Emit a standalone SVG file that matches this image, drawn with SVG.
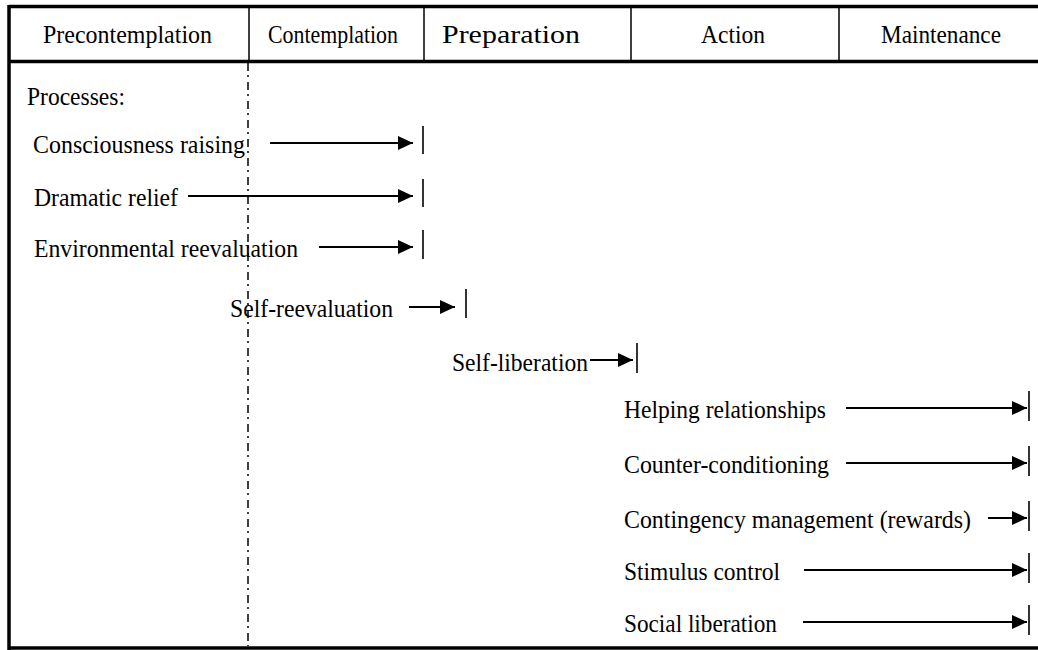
<svg xmlns="http://www.w3.org/2000/svg" width="1038" height="650" viewBox="0 0 1038 650">
<style>
text{font-family:"Liberation Serif","Times New Roman",serif;font-size:25px;fill:#000}
.frame{stroke:#000;stroke-width:3.5;fill:none}
.div{stroke:#000;stroke-width:1.5}
.conn{stroke:#000;stroke-width:1.8;fill:none}
.bar{stroke:#000;stroke-width:1.6}
</style>
<defs>
<marker id="ah" markerUnits="userSpaceOnUse" markerWidth="18" markerHeight="16" refX="16" refY="8" orient="auto" overflow="visible">
<path d="M1,1 L16,8 L1,15 Z" fill="#000"/>
</marker>
</defs>
<rect width="1038" height="650" fill="#fff"/>
<g id="frame">
<line class="frame" x1="9" y1="6.5" x2="1038" y2="6.5"/>
<line class="frame" x1="9" y1="61.5" x2="1038" y2="61.5"/>
<line class="frame" x1="9" y1="648" x2="1038" y2="648"/>
<line class="frame" x1="9" y1="5" x2="9" y2="650"/>
<line class="div" x1="249" y1="8" x2="249" y2="60"/>
<line class="div" x1="424" y1="8" x2="424" y2="60"/>
<line class="div" x1="631" y1="8" x2="631" y2="60"/>
<line class="div" x1="839" y1="8" x2="839" y2="60"/>
<line x1="248" y1="63" x2="248" y2="646" stroke="#000" stroke-width="1.5" stroke-dasharray="8 4 2 5"/>
</g>
<g id="headers">
<text x="43" y="43" textLength="169" lengthAdjust="spacingAndGlyphs">Precontemplation</text>
<text x="268" y="43" textLength="130" lengthAdjust="spacingAndGlyphs">Contemplation</text>
<text x="442" y="43" textLength="138" lengthAdjust="spacingAndGlyphs">Preparation</text>
<text x="701" y="43" textLength="64" lengthAdjust="spacingAndGlyphs">Action</text>
<text x="881" y="43" textLength="120" lengthAdjust="spacingAndGlyphs">Maintenance</text>
</g>
<g id="processes-label"><text x="27" y="105" textLength="98" lengthAdjust="spacingAndGlyphs">Processes:</text></g>
<g id="n-consciousness"><text x="33" y="153" textLength="212" lengthAdjust="spacingAndGlyphs">Consciousness raising</text></g>
<g id="n-dramatic"><text x="34" y="206" textLength="144" lengthAdjust="spacingAndGlyphs">Dramatic relief</text></g>
<g id="n-environmental"><text x="34" y="257" textLength="264" lengthAdjust="spacingAndGlyphs">Environmental reevaluation</text></g>
<g id="n-selfreeval"><text x="230" y="317" textLength="163" lengthAdjust="spacingAndGlyphs">Self-reevaluation</text></g>
<g id="n-selflib"><text x="452" y="371" textLength="136" lengthAdjust="spacingAndGlyphs">Self-liberation</text></g>
<g id="n-helping"><text x="624" y="418" textLength="202" lengthAdjust="spacingAndGlyphs">Helping relationships</text></g>
<g id="n-counter"><text x="624" y="473" textLength="205" lengthAdjust="spacingAndGlyphs">Counter-conditioning</text></g>
<g id="n-contingency"><text x="624" y="528" textLength="347" lengthAdjust="spacingAndGlyphs">Contingency management (rewards)</text></g>
<g id="n-stimulus"><text x="624" y="580" textLength="156" lengthAdjust="spacingAndGlyphs">Stimulus control</text></g>
<g id="n-social"><text x="624" y="632" textLength="153" lengthAdjust="spacingAndGlyphs">Social liberation</text></g>
<g id="connectors">
<line class="conn" x1="270" y1="143" x2="413" y2="143" marker-end="url(#ah)"/>
<line class="bar" x1="423" y1="126" x2="423" y2="154"/>
<line class="conn" x1="188" y1="196" x2="413" y2="196" marker-end="url(#ah)"/>
<line class="bar" x1="423" y1="179" x2="423" y2="207"/>
<line class="conn" x1="319" y1="247" x2="413" y2="247" marker-end="url(#ah)"/>
<line class="bar" x1="423" y1="230" x2="423" y2="259"/>
<line class="conn" x1="409" y1="307" x2="455" y2="307" marker-end="url(#ah)"/>
<line class="bar" x1="466" y1="289" x2="466" y2="318"/>
<line class="conn" x1="590" y1="360" x2="633" y2="360" marker-end="url(#ah)"/>
<line class="bar" x1="637" y1="343" x2="637" y2="373"/>
<line class="conn" x1="846" y1="408" x2="1027" y2="408" marker-end="url(#ah)"/>
<line class="bar" x1="1029" y1="391" x2="1029" y2="421"/>
<line class="conn" x1="846" y1="463" x2="1027" y2="463" marker-end="url(#ah)"/>
<line class="bar" x1="1029" y1="446" x2="1029" y2="476"/>
<line class="conn" x1="988" y1="518" x2="1027" y2="518" marker-end="url(#ah)"/>
<line class="bar" x1="1029" y1="501" x2="1029" y2="531"/>
<line class="conn" x1="804" y1="570" x2="1027" y2="570" marker-end="url(#ah)"/>
<line class="bar" x1="1029" y1="553" x2="1029" y2="583"/>
<line class="conn" x1="803" y1="622" x2="1027" y2="622" marker-end="url(#ah)"/>
<line class="bar" x1="1029" y1="605" x2="1029" y2="635"/>
</g>
</svg>
